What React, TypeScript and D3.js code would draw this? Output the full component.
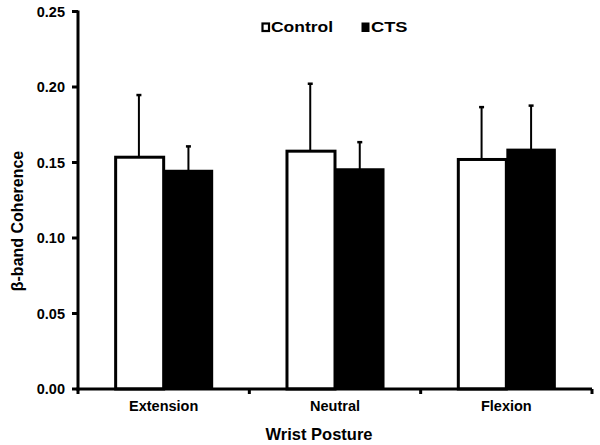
import React from "react";
import * as d3 from "d3";

const categories = ["Extension", "Neutral", "Flexion"];
const series = ["Control", "CTS"];
const controlMeans = [0.1535, 0.1575, 0.152];
const controlErr = [0.0415, 0.045, 0.035];
const ctsMeans = [0.1442, 0.1452, 0.1582];
const ctsErr = [0.0168, 0.0186, 0.0298];
const yTicks = [0, 0.05, 0.1, 0.15, 0.2, 0.25];

const W = 600;
const H = 445;
const FONT = "'Liberation Sans', Arial, sans-serif";

export default function App() {
  const y = d3.scaleLinear().domain([0, 0.25]).range([389, 11.5]);
  const x = d3.scaleBand<string>().domain(categories).range([78, 592]).paddingInner(0).paddingOuter(0);
  const sub = d3.scaleBand<string>().domain(series).range([0, x.bandwidth()]).paddingInner(0).paddingOuter(0.73);
  const bw = sub.bandwidth();
  const data = [controlMeans, ctsMeans];
  const errs = [controlErr, ctsErr];
  const boundaries = [...categories.map((c) => x(c) as number), 592];

  return (
    <svg width={W} height={H} style={{ position: "absolute", left: 0, top: 0, background: "#fff" }}>
      <rect x={0} y={0} width={W} height={H} fill="#fff" />
      {series.map((s, si) =>
        categories.map((c, ci) => {
          const cx = (x(c) as number) + (sub(s) as number) + bw / 2;
          const top = y(data[si][ci] + errs[si][ci]);
          return (
            <g key={`e-${s}-${c}`}>
              <line x1={cx} x2={cx} y1={y(data[si][ci])} y2={top} stroke="#000" strokeWidth={2} />
              <line x1={cx - 2.5} x2={cx + 2.5} y1={top + 0.5} y2={top + 0.5} stroke="#000" strokeWidth={2.5} />
            </g>
          );
        })
      )}
      {series.map((s, si) =>
        categories.map((c, ci) => {
          const bx = (x(c) as number) + (sub(s) as number);
          const by = y(data[si][ci]);
          return si === 0 ? (
            <rect key={`b-${s}-${c}`} x={bx + 1.5} y={by} width={bw - 1.5} height={389 - by} fill="#fff" stroke="#000" strokeWidth={3} />
          ) : (
            <rect key={`b-${s}-${c}`} x={bx} y={by - 1.5} width={bw} height={389 - by + 1.5} fill="#000" />
          );
        })
      )}
      <line x1={78} x2={78} y1={y(0.25) - 1} y2={390.5} stroke="#000" strokeWidth={3} />
      {yTicks.map((t) => (
        <g key={`yt-${t}`}>
          <line x1={72} x2={78} y1={y(t)} y2={y(t)} stroke="#000" strokeWidth={3} />
          <text x={65} y={y(t)} dy="0.35em" textAnchor="end" fontFamily={FONT} fontWeight="bold" fontSize={14.5} fill="#000">
            {d3.format(".2f")(t)}
          </text>
        </g>
      ))}
      <line x1={76.5} x2={592} y1={389} y2={389} stroke="#000" strokeWidth={3} />
      {boundaries.map((b, i) => (
        <line key={`xt-${i}`} x1={b} x2={b} y1={389} y2={394} stroke="#000" strokeWidth={3} />
      ))}
      {categories.map((c) => (
        <text key={`xl-${c}`} x={(x(c) as number) + x.bandwidth() / 2} y={411} textAnchor="middle" fontFamily={FONT} fontWeight="bold" fontSize={14.5} fill="#000">
          {c}
        </text>
      ))}
      <text x={319} y={440} textAnchor="middle" fontFamily={FONT} fontWeight="bold" fontSize={16.5} fill="#000">
        Wrist Posture
      </text>
      <text transform="translate(23,221) rotate(-90)" textAnchor="middle" fontFamily={FONT} fontWeight="bold" fontSize={16} fill="#000">
        β-band Coherence
      </text>
      <rect x={262.5} y={23.5} width={6.5} height={7.5} fill="#fff" stroke="#000" strokeWidth={2.2} />
      <text x={271} y={32} fontFamily={FONT} fontWeight="bold" fontSize={15} textLength={62} lengthAdjust="spacingAndGlyphs" fill="#000">
        Control
      </text>
      <rect x={361.5} y={22.5} width={8} height={9.5} fill="#000" />
      <text x={371} y={32} fontFamily={FONT} fontWeight="bold" fontSize={15} textLength={36.5} lengthAdjust="spacingAndGlyphs" fill="#000">
        CTS
      </text>
    </svg>
  );
}
